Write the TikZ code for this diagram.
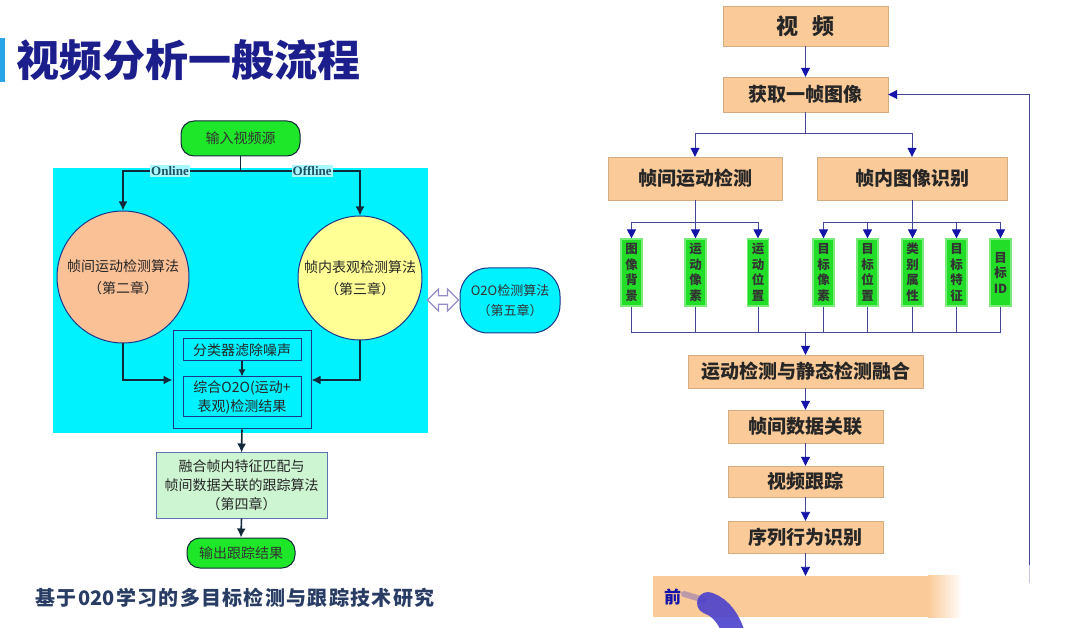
\documentclass[tikz,border=0pt]{standalone}
\usepackage{fontspec}
\setmainfont{Noto Sans CJK SC}
\newfontfamily\cjk{Noto Sans CJK SC}
\newfontfamily\lserif{Liberation Serif}
\usetikzlibrary{arrows.meta,positioning,calc,shapes.arrows}
\definecolor{peach}{RGB}{250,202,152}
\definecolor{gbox}{RGB}{34,222,40}
\definecolor{gglow}{RGB}{120,235,120}
\definecolor{rline}{RGB}{70,70,150}
\definecolor{rarrow}{RGB}{20,20,170}
\definecolor{titleblue}{RGB}{28,30,140}
\definecolor{barblue}{RGB}{40,165,230}
\definecolor{cyanbg}{RGB}{0,242,255}
\definecolor{lborder}{RGB}{25,55,140}
\definecolor{lline}{RGB}{20,40,60}
\definecolor{orangec}{RGB}{250,192,150}
\definecolor{yellowc}{RGB}{255,255,150}
\definecolor{pillgreen}{RGB}{30,230,40}
\definecolor{lightgreen}{RGB}{205,245,210}
\definecolor{lbltext}{RGB}{30,80,100}
\definecolor{lblbg}{RGB}{170,248,255}
\definecolor{bottomtext}{RGB}{40,60,100}
\definecolor{blob}{RGB}{75,65,205}
\definecolor{dblarrow}{RGB}{150,140,200}
\tikzset{
  rbox/.style={fill=peach, draw=peach!85!black, line width=0.4pt, inner sep=0pt, font=\bfseries\fontsize{19}{22}\selectfont, text=black!85},
  gvbox/.style={fill=gbox, draw=gglow, line width=1.2pt, minimum width=21pt, minimum height=67pt, inner sep=0pt, align=center, font=\bfseries\fontsize{12.5}{15.5}\selectfont, text=black!80},
  rarr/.style={draw=rline, line width=0.9pt, -{Triangle[length=9pt,width=9pt,color=rarrow]}},
  rln/.style={draw=rline, line width=0.9pt},
  larr/.style={draw=lline, line width=1.6pt, -{Latex[length=9pt,width=9pt]}},
  lln/.style={draw=lline, line width=1.6pt},
  lbox/.style={draw=lborder, line width=1pt, inner sep=0pt, align=center, font=\fontsize{14}{18}\selectfont, text=black!85},
  pill/.style={fill=pillgreen, draw=lline, line width=1pt, rounded corners=13pt, inner sep=0pt, font=\fontsize{14}{18}\selectfont, text=black!80},
  lbl/.style={fill=lblbg, inner sep=1pt, font=\lserif\bfseries\fontsize{13}{15}\selectfont, text=lbltext}
}
\begin{document}
\begin{tikzpicture}[x=1pt,y=-1pt]
\useasboundingbox (0,0) rectangle (1080,628);
\fill[white] (0,0) rectangle (1080,628);

% ---------- title ----------
\fill[barblue] (0,38) rectangle (5,82);
\node[anchor=west, inner sep=0pt, text=titleblue, font=\bfseries\fontsize{43}{46}\selectfont] (title) at (16,60) {视频分析一般流程};

% ---------- left diagram ----------
\fill[cyanbg] (53,168) rectangle (428,433);
\node[pill, minimum width=119pt, minimum height=35pt] (in) at (240.5,138.5) {输入视频源};
\node[circle, fill=orangec, draw=lborder, line width=1pt, minimum size=132pt, inner sep=0pt, align=center, font=\fontsize{14}{22}\selectfont, text=black!85] (c1) at (123,277) {帧间运动检测算法\\（第二章）};
\node[circle, fill=yellowc, draw=lborder, line width=1pt, minimum size=124pt, inner sep=0pt, align=center, font=\fontsize{14}{22}\selectfont, text=black!85] (c2) at (360,278) {帧内表观检测算法\\（第三章）};
\node[lbox, fill=cyanbg, minimum width=138pt, minimum height=98pt] (ob) at (242,380) {};
\node[lbox, fill=cyanbg, minimum width=118pt, minimum height=22pt] (b1) at (242,350) {分类器滤除噪声};
\node[lbox, fill=cyanbg, minimum width=118pt, minimum height=40pt, font=\fontsize{14}{19}\selectfont] (b2) at (242,397) {综合O2O(运动+\\表观)检测结果};
\node[lbox, fill=lightgreen, draw=lborder!70, minimum width=171pt, minimum height=65pt, font=\fontsize{14}{19}\selectfont] (g4) at (241.5,485.5) {融合帧内特征匹配与\\帧间数据关联的跟踪算法\\（第四章）};
\node[pill, minimum width=108pt, minimum height=30pt] (out) at (241,553) {输出跟踪结果};
\node[fill=cyanbg, draw=lborder, line width=1pt, rounded corners=28pt, minimum width=100pt, minimum height=65pt, inner sep=0pt, align=center, font=\fontsize{13}{20}\selectfont, text=black!80] (o2o) at (510,300.5) {O2O检测算法\\（第五章）};
\node[double arrow, draw=dblarrow, fill=white, line width=1.2pt, minimum height=31pt, minimum width=22pt, double arrow head extend=4pt, inner sep=2pt] (dbl) at (443,300) {};

\coordinate (split) at (240.5,171);
\draw[lln] (in.south) -- (split);
\draw[larr] (split) -| node[lbl, pos=0.30] {Online} (c1.north);
\draw[larr] (split) -| node[lbl, pos=0.30] {Offline} (c2.north);
\draw[larr] (c1.south) |- (ob.west);
\draw[larr] (c2.south) |- (ob.east);
\draw[larr, line width=1.2pt, -{Latex[length=7pt,width=7pt]}] (b1.south) -- (b2.north);
\draw[larr] (ob.south) -- (g4.north);
\draw[larr] (g4.south) -- (out.north);

\node[anchor=center, inner sep=0pt, text=bottomtext, font=\bfseries\fontsize{20}{24}\selectfont] (btxt) at (235,598) {基\kern1.3pt 于\kern1.3pt 020\kern1.3pt 学\kern1.3pt 习\kern1.3pt 的\kern1.3pt 多\kern1.3pt 目\kern1.3pt 标\kern1.3pt 检\kern1.3pt 测\kern1.3pt 与\kern1.3pt 跟\kern1.3pt 踪\kern1.3pt 技\kern1.3pt 术\kern1.3pt 研\kern1.3pt 究};

% ---------- right diagram ----------
\node[rbox, minimum width=165pt, minimum height=40pt, font=\bfseries\fontsize{22}{24}\selectfont] (v) at (805.5,26) {视\hspace{0.6em}频};
\node[rbox, minimum width=165pt, minimum height=35pt] (g) at (805.5,94.5) {获取一帧图像};
\node[rbox, minimum width=174pt, minimum height=43pt] (m) at (695,178.5) {帧间运动检测};
\node[rbox, minimum width=190pt, minimum height=43pt] (n) at (912,178.5) {帧内图像识别};

\node[gvbox] (k1) at (631.5,272.5) {图\\像\\背\\景};
\node[gvbox] (k2) at (695.5,272.5) {运\\动\\像\\素};
\node[gvbox] (k3) at (758,272.5) {运\\动\\位\\置};
\node[gvbox] (k4) at (823.5,272.5) {目\\标\\像\\素};
\node[gvbox] (k5) at (867.5,272.5) {目\\标\\位\\置};
\node[gvbox] (k6) at (912.5,272.5) {类\\别\\属\\性};
\node[gvbox] (k7) at (956.5,272.5) {目\\标\\特\\征};
\node[gvbox] (k8) at (1000.5,272.5) {目\\标\\ID};

\node[rbox, minimum width=235pt, minimum height=33pt] (f) at (805.5,371.5) {运动检测与静态检测融合};
\node[rbox, minimum width=155pt, minimum height=33pt] (d) at (805.5,426.5) {帧间数据关联};
\node[rbox, minimum width=155pt, minimum height=31pt] (t) at (805.5,481.5) {视频跟踪};
\node[rbox, minimum width=155pt, minimum height=32pt] (s) at (805.5,537) {序列行为识别};
\node[rbox, draw=none, minimum width=305pt, minimum height=41pt] (q) at (805.5,596.5) {};
\shade[left color=peach, right color=white, draw=none] (928,575.5) rectangle (962,617.5);
\node[anchor=west, inner sep=0pt, text=rarrow, font=\bfseries\fontsize{17}{20}\selectfont] (qt) at (664,597) {前};

\draw[rarr] (v.south) -- (g.north);
\coordinate (gs) at (805.5,133);
\draw[rln] (g.south) -- (gs);
\draw[rarr] (gs) -| (m.north);
\draw[rarr] (gs) -| (n.north);
\foreach \k in {k1,k2,k3} { \draw[rarr] (m.south) -- ++(0,22) -| (\k.north); }
\foreach \k in {k4,k5,k6,k7,k8} { \draw[rarr] (n.south) -- ++(0,22) -| (\k.north); }
\coordinate (bus) at (805.5,332);
\foreach \k in {k1,k2,k3,k4,k5,k6,k7,k8} { \draw[rln] (\k.south) |- (bus); }
\draw[rarr] (bus) -- (f.north);
\draw[rarr] (f.south) -- (d.north);
\draw[rarr] (d.south) -- (t.north);
\draw[rarr] (t.south) -- (s.north);
\draw[rarr] (s.south) -- (q.north);
\coordinate (fb) at (1029,583);
\draw[rarr] (fb) |- (g.east);
\shade[top color=white, bottom color=white, middle color=white, opacity=0.7] (1020,565) rectangle (1040,590);

% pen blob
\begin{scope}
\clip (0,0) rectangle (1080,628);
\draw[blob, opacity=0.35, line width=6pt, line cap=round] (684,594) -- (704,600);
\draw[blob, opacity=0.9, line width=22pt, line cap=round] (708,603) .. controls (722,608) and (730,620) .. (736,640);
\end{scope}
\end{tikzpicture}
\end{document}
